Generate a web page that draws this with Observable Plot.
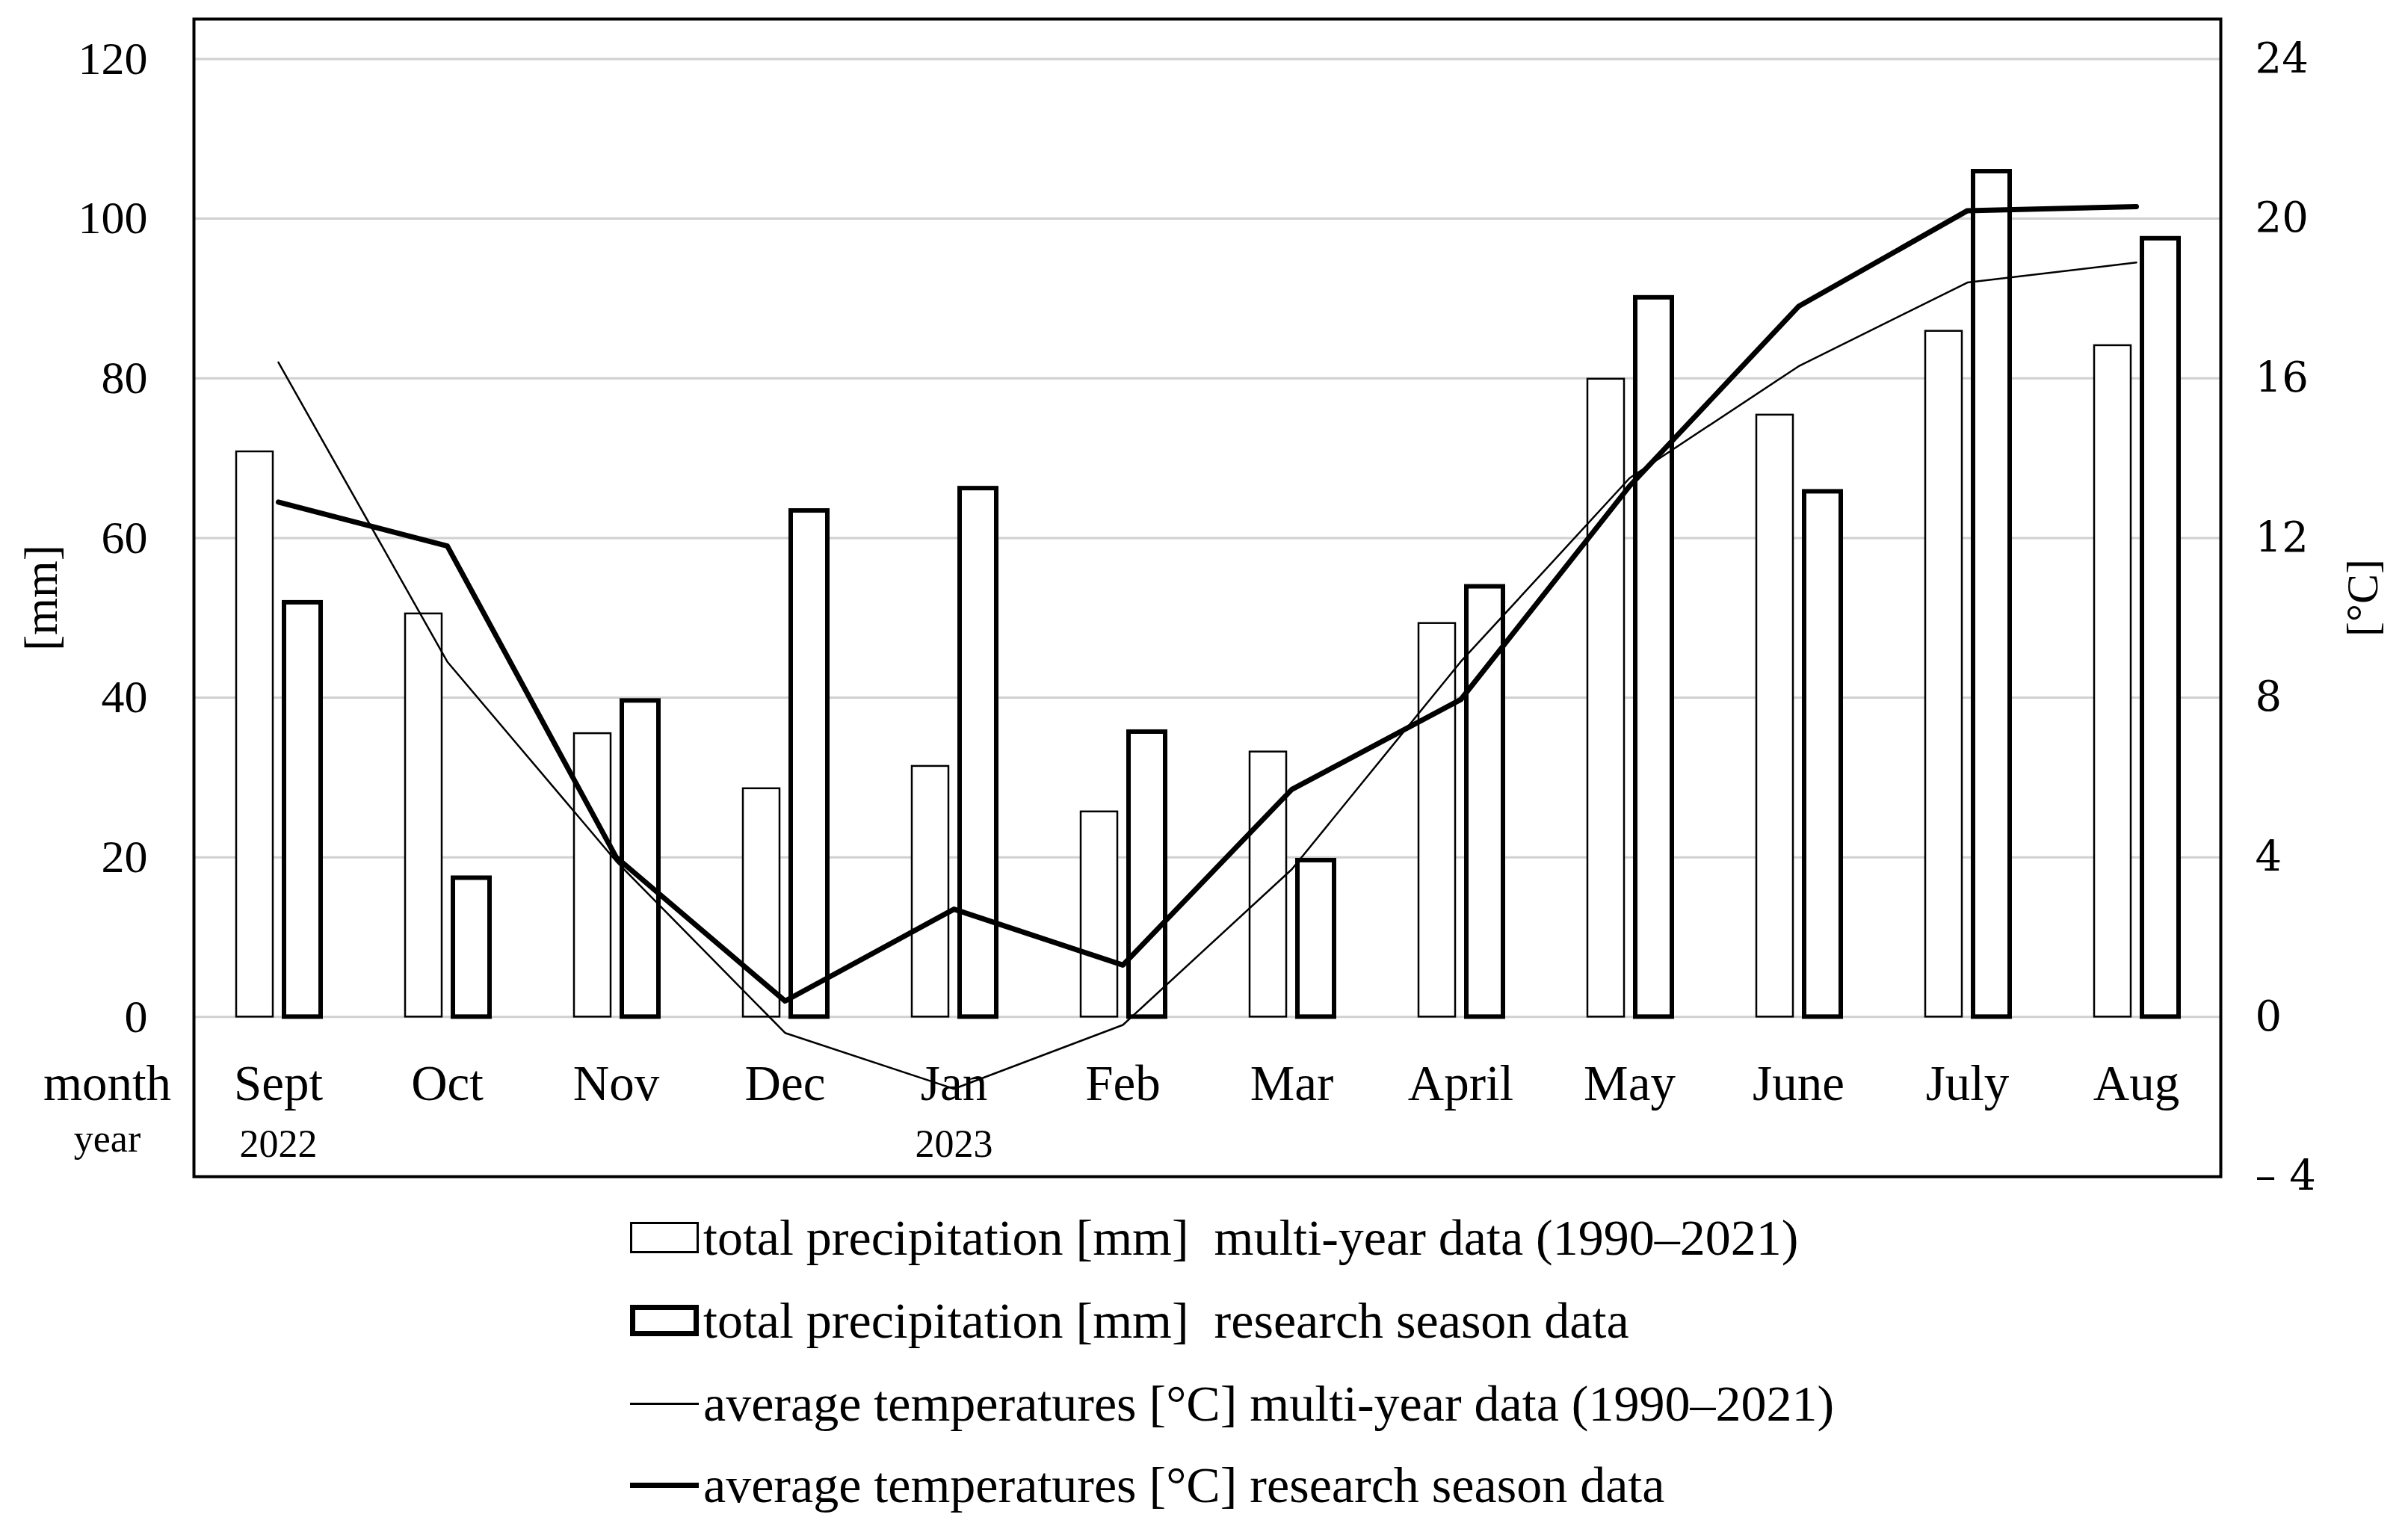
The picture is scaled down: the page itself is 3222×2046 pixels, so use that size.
<!DOCTYPE html>
<html>
<head>
<meta charset="utf-8">
<script src="https://cdn.jsdelivr.net/npm/d3@7"></script>
<script src="https://cdn.jsdelivr.net/npm/@observablehq/plot@0.6"></script>
<style>
  html, body { margin: 0; padding: 0; background: #ffffff; }
  #chart { width: 3222px; }
  #legend { position: relative; width: 3222px; height: 436px; font-family: "Liberation Serif", serif; font-size: 68px; color: #000; }
  .row { position: absolute; left: 843px; height: 90px; display: flex; align-items: center; white-space: pre; }
  .sym { width: 92px; box-sizing: border-box; margin-right: 6px; flex: none; }
</style>
</head>
<body>
<div id="chart"></div>
<div id="legend"></div>
<script>
// ---- data ----
const months = ["Sept", "Oct", "Nov", "Dec", "Jan", "Feb", "Mar", "April", "May", "June", "July", "Aug"];
const precipMulti = [70.8, 50.5, 35.5, 28.6, 31.4, 25.7, 33.2, 49.3, 79.9, 75.4, 85.9, 84.1];
const precipSeason = [51.9, 17.4, 39.6, 63.4, 66.2, 35.7, 19.6, 53.9, 90.1, 65.8, 105.9, 97.5];
const tempMulti = [16.4, 8.9, 3.9, -0.4, -1.8, -0.2, 3.7, 8.9, 13.5, 16.3, 18.4, 18.9];
const tempSeason = [12.9, 11.8, 4.0, 0.4, 2.7, 1.3, 5.7, 7.95, 13.3, 17.8, 20.2, 20.3];
const yearLabels = [{month: "Sept", year: "2022"}, {month: "Jan", year: "2023"}];
const mmTicks = [0, 20, 40, 60, 80, 100, 120];
const tempTicks = [-4, 0, 4, 8, 12, 16, 20, 24];
const legendItems = [
  {label: "total precipitation [mm]  multi-year data (1990–2021)", kind: "bar", weight: 3},
  {label: "total precipitation [mm]  research season data", kind: "bar", weight: 7},
  {label: "average temperatures [°C] multi-year data (1990–2021)", kind: "line", weight: 3},
  {label: "average temperatures [°C] research season data", kind: "line", weight: 7}
];

// temperature axis shares the mm scale: 1 °C = 5 mm
const TEMP_TO_MM = 5;

const data = months.map((m, i) => ({
  month: m,
  multi: precipMulti[i],
  season: precipSeason[i],
  tMulti: tempMulti[i],
  tSeason: tempSeason[i]
}));

const W = 3222, H = 1610;
const serif = "'Liberation Serif', serif";

const chart = Plot.plot({
  width: W,
  height: H,
  marginLeft: 259,
  marginRight: 251,
  marginTop: 25,
  marginBottom: 36,
  style: {fontFamily: serif, fontSize: "62px", background: "#ffffff", color: "#000"},
  x: {domain: months, padding: 0, axis: null},
  y: {domain: [-20, 125], axis: null},
  marks: [
    Plot.ruleY(mmTicks, {stroke: "#d0d0d0", strokeWidth: 3}),
    Plot.barY(data, {x: "month", y: "multi", fill: "white", stroke: "black", strokeWidth: 2.5, insetLeft: 57, insetRight: 120}),
    Plot.barY(data, {x: "month", y: "season", fill: "white", stroke: "black", strokeWidth: 6, insetLeft: 121, insetRight: 56}),
    Plot.line(data, {x: "month", y: d => d.tMulti * TEMP_TO_MM, stroke: "black", strokeWidth: 2.5, strokeLinejoin: "round"}),
    Plot.line(data, {x: "month", y: d => d.tSeason * TEMP_TO_MM, stroke: "black", strokeWidth: 7, strokeLinejoin: "round", strokeLinecap: "round"}),
    Plot.axisY({anchor: "left", ticks: mmTicks, tickSize: 0, tickPadding: 62, fontSize: 62, label: null}),
    Plot.axisY({anchor: "right", ticks: tempTicks.map(t => t * TEMP_TO_MM), tickSize: 0, tickPadding: 46,
      tickFormat: d => { const t = d / TEMP_TO_MM; return t < 0 ? "– " + (-t) : String(t); },
      fontSize: 56, fontFamily: "'DejaVu Serif', serif", label: null}),
    Plot.text(["[mm]"], {frameAnchor: "left", rotate: -90, dx: -204, fontSize: 64, textAnchor: "middle"}),
    Plot.text(["[°C]"], {frameAnchor: "right", rotate: -90, dx: 190, fontSize: 60, textAnchor: "middle"}),
    Plot.text(months, {x: d => d, frameAnchor: "bottom", lineAnchor: "bottom", dy: -103, fontSize: 67}),
    Plot.text(yearLabels, {x: "month", text: "year", frameAnchor: "bottom", lineAnchor: "bottom", dy: -27, fontSize: 52}),
    Plot.text(["month"], {frameAnchor: "bottom-left", lineAnchor: "bottom", textAnchor: "middle", dx: -116, dy: -103, fontSize: 67}),
    Plot.text(["year"], {frameAnchor: "bottom-left", lineAnchor: "bottom", textAnchor: "middle", dx: -116, dy: -34, fontSize: 52}),
    Plot.frame({stroke: "black", strokeWidth: 4})
  ]
});
document.getElementById("chart").appendChild(chart);

// ---- legend below the SVG ----
const legend = d3.select("#legend");
const rowCenters = [46, 157, 268, 377];
legendItems.forEach((item, i) => {
  const row = legend.append("div").attr("class", "row").style("top", (rowCenters[i] - 45) + "px");
  const sym = row.append("div").attr("class", "sym");
  if (item.kind === "bar") {
    sym.style("height", "42px").style("border", item.weight + "px solid #000").style("background", "#fff");
  } else {
    sym.style("height", item.weight + "px").style("background", "#000");
  }
  row.append("span").text(item.label);
});
</script>
</body>
</html>
